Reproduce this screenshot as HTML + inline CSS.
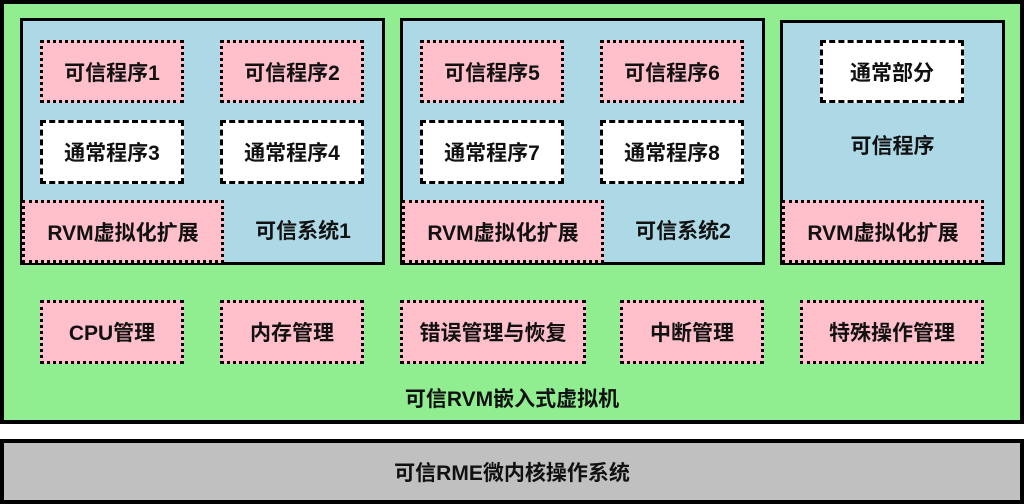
<!DOCTYPE html>
<html><head><meta charset="utf-8"><style>
body{margin:0;width:1024px;height:504px;position:relative;background:#fff;overflow:hidden;font-family:"Liberation Sans","Noto Sans CJK SC",sans-serif;font-weight:bold;font-size:21px;color:#111}
div{position:absolute;box-sizing:border-box}
.c{display:flex;align-items:center;justify-content:center}
.p{background:#FFC0CB;border:3px dotted #000}
.w{background:#fff;border:3px dashed #000}
.b{background:#ADD8E6;border:3px solid #000}
</style></head><body>
<div style="left:0;top:0;width:1024px;height:424px;background:#90EE90;border:4px solid #000"></div>
<div style="left:0;top:439px;width:1024px;height:65px;background:#C0C0C0;border:4px solid #000"></div>

<div class="b" style="left:20px;top:18px;width:365px;height:247px"></div>
<div class="b" style="left:400px;top:18px;width:365px;height:247px"></div>
<div class="b" style="left:780px;top:20px;width:225px;height:245px"></div>

<div class="p c" style="left:40px;top:40px;width:144px;height:63px">可信程序1</div>
<div class="p c" style="left:220px;top:40px;width:144px;height:63px">可信程序2</div>
<div class="w c" style="left:40px;top:120px;width:144px;height:64px">通常程序3</div>
<div class="w c" style="left:220px;top:120px;width:144px;height:64px">通常程序4</div>
<div class="p c" style="left:22px;top:200px;width:202px;height:63px">RVM虚拟化扩展</div>
<div class="c" style="left:224px;top:200px;width:158px;height:60px">可信系统1</div>

<div class="p c" style="left:420px;top:40px;width:144px;height:63px">可信程序5</div>
<div class="p c" style="left:600px;top:40px;width:144px;height:63px">可信程序6</div>
<div class="w c" style="left:420px;top:120px;width:144px;height:64px">通常程序7</div>
<div class="w c" style="left:600px;top:120px;width:144px;height:64px">通常程序8</div>
<div class="p c" style="left:402px;top:200px;width:202px;height:63px">RVM虚拟化扩展</div>
<div class="c" style="left:604px;top:200px;width:158px;height:60px">可信系统2</div>

<div class="w c" style="left:820px;top:40px;width:144px;height:63px">通常部分</div>
<div class="c" style="left:780px;top:125px;width:225px;height:40px">可信程序</div>
<div class="p c" style="left:782px;top:200px;width:202px;height:63px">RVM虚拟化扩展</div>

<div class="p c" style="left:40px;top:300px;width:144px;height:64px">CPU管理</div>
<div class="p c" style="left:220px;top:300px;width:144px;height:64px">内存管理</div>
<div class="p c" style="left:400px;top:300px;width:186px;height:64px">错误管理与恢复</div>
<div class="p c" style="left:620px;top:300px;width:144px;height:64px">中断管理</div>
<div class="p c" style="left:800px;top:300px;width:184px;height:64px">特殊操作管理</div>

<div class="c" style="left:0;top:380px;width:1024px;height:36px">可信RVM嵌入式虚拟机</div>
<div class="c" style="left:0;top:452px;width:1024px;height:40px">可信RME微内核操作系统</div>
</body></html>
